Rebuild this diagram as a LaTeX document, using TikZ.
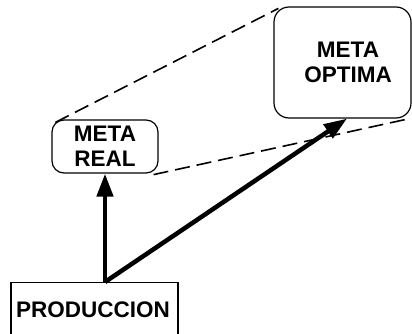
\documentclass[tikz,border=0pt]{standalone}
\usepackage{fontspec}
\setmainfont{Liberation Sans}
\usetikzlibrary{arrows.meta,calc}
\begin{document}
\begin{tikzpicture}[x=1pt,y=-1pt,
  goal/.style={draw, line width=1.2pt, rounded corners=12pt, inner sep=0pt},
  lbl/.style={font=\fontsize{22.5}{25}\selectfont\bfseries, align=center, inner sep=0pt},
  push/.style={line width=4.5pt, -{Triangle[length=23pt,width=16pt]}},
  span/.style={line width=1.6pt, dash pattern=on 15pt off 7pt}]
\useasboundingbox (0,0) rectangle (412,334);
\clip (0,0) rectangle (412,334);

% goals
\node[goal, minimum width=106pt, minimum height=53pt, lbl] (real) at (105,146.5) {META\\REAL};
\node[goal, rounded corners=15pt, minimum width=137pt, minimum height=111pt] (optima) at (342.5,62.5) {};
\node[lbl] (optimatxt) at (348,62.5) {META\\OPTIMA};

% production box, running past the lower edge
\node[draw, line width=1.2pt, minimum width=167pt, minimum height=80pt, anchor=north] (prod) at (94.5,282) {};
\node[lbl] (prodtxt) at (93,310) {PRODUCCION};

% dashed projection between the two goals
\draw[span] ($(real.north west)+(4,3)$) -- ($(optima.north west)+(5,2)$);
\draw[span] ($(real.south east)+(-5,1)$) -- ($(optima.south east)+(-2,0)$);

% thrusts from production
\coordinate (src) at (105,282);
\draw[push] (src) -- (real.south);
\draw[push] (src) -- ($(optima.south)+(4.5,0)$);
\end{tikzpicture}
\end{document}
